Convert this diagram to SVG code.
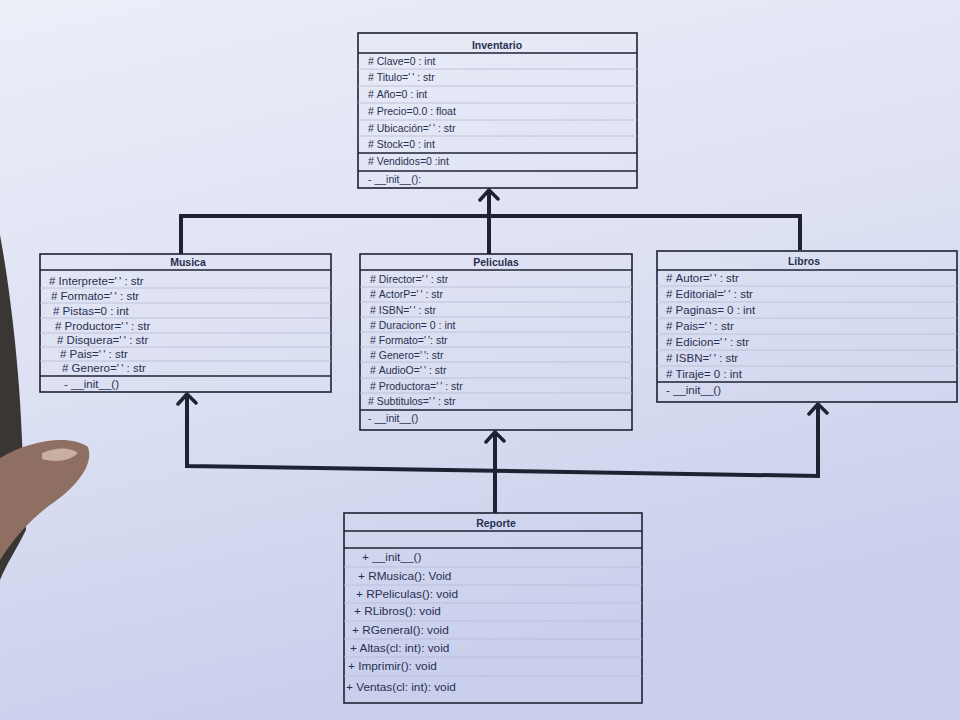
<svg xmlns="http://www.w3.org/2000/svg" width="960" height="720" viewBox="0 0 960 720">
<defs>
<linearGradient id="paper" x1="0" y1="0" x2="0.3" y2="1">
<stop offset="0" stop-color="#eceef8"/>
<stop offset="0.5" stop-color="#dde1f3"/>
<stop offset="1" stop-color="#c9cfec"/>
</linearGradient>
<marker id="open" viewBox="0 0 14 22" refX="12" refY="11" markerWidth="14" markerHeight="22" markerUnits="userSpaceOnUse" orient="auto-start-reverse">
<path d="M2,2 L12,11 L3,20" fill="none" stroke="#1e2233" stroke-width="3.5" stroke-linecap="round" stroke-linejoin="round"/>
</marker>
<style>
.box{fill:none;stroke:#1e2233;stroke-width:1.6}
.sep{stroke:#1e2233;stroke-width:1.4}
.row{stroke:#b8bdd4;stroke-width:0.8}
.t{font-family:"Liberation Sans",Arial,sans-serif;font-size:10.5px;fill:#283050}
.m{font-size:11.5px}
.r{font-size:11.8px}
.h{font-family:"Liberation Sans",Arial,sans-serif;font-size:10.5px;font-weight:bold;fill:#283050;text-anchor:middle}
.c{fill:none;stroke:#1e2233;stroke-width:4;stroke-linejoin:miter}
</style>
</defs>
<rect x="0" y="0" width="960" height="720" fill="url(#paper)"/>
<path d="M0,235 C12,300 20,380 22,440 L26,530 C16,550 6,565 0,580 Z" fill="#3a3634"/>
<path d="M0,458 C30,440 70,434 88,447 C94,464 78,486 50,505 C30,520 14,538 0,560 Z" fill="#8e6f62"/>
<path d="M42,453 C56,447 70,447 78,453 C70,461 56,463 42,459 Z" fill="#c9aea4"/>

<g id="connectors">
<path class="c" d="M181,254 L181,216 L800,216 L800,250"/>
<path class="c" d="M489,254 L489,190" marker-end="url(#open)"/>
<path class="c" d="M495,513 L495,432" marker-end="url(#open)"/>
<path class="c" d="M187,394 L187,466 L818,476 L818,404" marker-start="url(#open)" marker-end="url(#open)"/>
</g>

<g id="Inventario">
<rect class="box" x="358" y="33" width="279" height="155"/>
<line class="sep" x1="358" y1="53" x2="637" y2="53"/>
<line class="row" x1="358" y1="69" x2="637" y2="69"/>
<line class="row" x1="358" y1="86" x2="637" y2="86"/>
<line class="row" x1="358" y1="103" x2="637" y2="103"/>
<line class="row" x1="358" y1="120" x2="637" y2="120"/>
<line class="row" x1="358" y1="136" x2="637" y2="136"/>
<line class="sep" x1="358" y1="153" x2="637" y2="153"/>
<line class="sep" x1="358" y1="171" x2="637" y2="171"/>
<text class="h" x="497" y="49">Inventario</text>
<text class="t" x="368" y="65">#&#160;Clave=0 : int</text>
<text class="t" x="368" y="81">#&#160;Titulo='&#8201;' : str</text>
<text class="t" x="368" y="98">#&#160;Año=0 : int</text>
<text class="t" x="368" y="115">#&#160;Precio=0.0 : float</text>
<text class="t" x="368" y="132">#&#160;Ubicación='&#8201;' : str</text>
<text class="t" x="368" y="148">#&#160;Stock=0 : int</text>
<text class="t" x="368" y="165">#&#160;Vendidos=0 :int</text>
<text class="t" x="368" y="183">-  __init__():</text>
</g>

<g id="Musica">
<rect class="box" x="40" y="254" width="291" height="138"/>
<line class="sep" x1="40" y1="270" x2="331" y2="270"/>
<line class="row" x1="40" y1="288" x2="331" y2="288"/>
<line class="row" x1="40" y1="303" x2="331" y2="303"/>
<line class="row" x1="40" y1="318" x2="331" y2="318"/>
<line class="row" x1="40" y1="333" x2="331" y2="333"/>
<line class="row" x1="40" y1="347" x2="331" y2="347"/>
<line class="row" x1="40" y1="361" x2="331" y2="361"/>
<line class="sep" x1="40" y1="376" x2="331" y2="376"/>
<text class="h" x="188" y="266">Musica</text>
<text class="t m" x="49" y="285">#&#160;Interprete='&#8201;' : str</text>
<text class="t m" x="51" y="300">#&#160;Formato='&#8201;' : str</text>
<text class="t m" x="53" y="315">#&#160;Pistas=0 : int</text>
<text class="t m" x="55" y="330">#&#160;Productor='&#8201;' : str</text>
<text class="t m" x="57" y="344">#&#160;Disquera='&#8201;' : str</text>
<text class="t m" x="60" y="358">#&#160;Pais='&#8201;' : str</text>
<text class="t m" x="62" y="372">#&#160;Genero='&#8201;' : str</text>
<text class="t m" x="64" y="388">-  __init__()</text>
</g>

<g id="Peliculas">
<rect class="box" x="360" y="254" width="272" height="176"/>
<line class="sep" x1="360" y1="270" x2="632" y2="270"/>
<line class="row" x1="360" y1="287" x2="632" y2="287"/>
<line class="row" x1="360" y1="302" x2="632" y2="302"/>
<line class="row" x1="360" y1="317" x2="632" y2="317"/>
<line class="row" x1="360" y1="332" x2="632" y2="332"/>
<line class="row" x1="360" y1="347" x2="632" y2="347"/>
<line class="row" x1="360" y1="362" x2="632" y2="362"/>
<line class="row" x1="360" y1="378" x2="632" y2="378"/>
<line class="row" x1="360" y1="393" x2="632" y2="393"/>
<line class="sep" x1="360" y1="410" x2="632" y2="410"/>
<text class="h" x="496" y="266">Peliculas</text>
<text class="t" x="370" y="283">#&#160;Director='&#8201;' : str</text>
<text class="t" x="370" y="298">#&#160;ActorP='&#8201;' : str</text>
<text class="t" x="370" y="314">#&#160;ISBN='&#8201;' : str</text>
<text class="t" x="370" y="329">#&#160;Duracion= 0 : int</text>
<text class="t" x="370" y="344">#&#160;Formato='&#8201;': str</text>
<text class="t" x="370" y="359">#&#160;Genero='&#8201;': str</text>
<text class="t" x="370" y="374">#&#160;AudioO='&#8201;' : str</text>
<text class="t" x="370" y="390">#&#160;Productora='&#8201;' : str</text>
<text class="t" x="368" y="405">#&#160;Subtitulos='&#8201;' : str</text>
<text class="t" x="368" y="422">-  __init__()</text>
</g>

<g id="Libros">
<rect class="box" x="657" y="251" width="300" height="151"/>
<line class="sep" x1="657" y1="270" x2="957" y2="270"/>
<line class="row" x1="657" y1="286" x2="957" y2="286"/>
<line class="row" x1="657" y1="302" x2="957" y2="302"/>
<line class="row" x1="657" y1="318" x2="957" y2="318"/>
<line class="row" x1="657" y1="334" x2="957" y2="334"/>
<line class="row" x1="657" y1="350" x2="957" y2="350"/>
<line class="row" x1="657" y1="366" x2="957" y2="366"/>
<line class="sep" x1="657" y1="382" x2="957" y2="382"/>
<text class="h" x="804" y="265">Libros</text>
<text class="t m" x="666" y="282">#&#160;Autor='&#8201;' : str</text>
<text class="t m" x="666" y="298">#&#160;Editorial='&#8201;' : str</text>
<text class="t m" x="666" y="314">#&#160;Paginas= 0 : int</text>
<text class="t m" x="666" y="330">#&#160;Pais='&#8201;' : str</text>
<text class="t m" x="666" y="346">#&#160;Edicion='&#8201;' : str</text>
<text class="t m" x="666" y="362">#&#160;ISBN='&#8201;' : str</text>
<text class="t m" x="666" y="378">#&#160;Tiraje= 0 : int</text>
<text class="t m" x="666" y="394">-  __init__()</text>
</g>

<g id="Reporte">
<rect class="box" x="344" y="513" width="298" height="190"/>
<line class="sep" x1="344" y1="531" x2="642" y2="531"/>
<line class="sep" x1="344" y1="548" x2="642" y2="548"/>
<line class="row" x1="344" y1="567" x2="642" y2="567"/>
<line class="row" x1="344" y1="585" x2="642" y2="585"/>
<line class="row" x1="344" y1="603" x2="642" y2="603"/>
<line class="row" x1="344" y1="621" x2="642" y2="621"/>
<line class="row" x1="344" y1="639" x2="642" y2="639"/>
<line class="row" x1="344" y1="657" x2="642" y2="657"/>
<line class="row" x1="344" y1="676" x2="642" y2="676"/>
<text class="h" x="496" y="527">Reporte</text>
<text class="t r" x="362" y="561">+  __init__()</text>
<text class="t r" x="358" y="580">+ RMusica(): Void</text>
<text class="t r" x="356" y="598">+ RPeliculas(): void</text>
<text class="t r" x="354" y="615">+ RLibros(): void</text>
<text class="t r" x="352" y="634">+ RGeneral(): void</text>
<text class="t r" x="350" y="652">+ Altas(cl: int): void</text>
<text class="t r" x="348" y="670">+ Imprimir(): void</text>
<text class="t r" x="346" y="691">+ Ventas(cl: int): void</text>
</g>
</svg>
